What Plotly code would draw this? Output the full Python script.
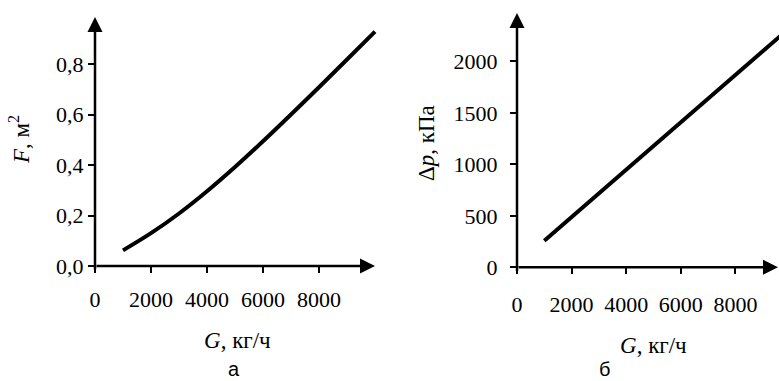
import plotly.graph_objects as go

W, H = 779, 381

# Data
G = [1000, 2000, 3000, 4000, 5000, 6000, 7000, 8000, 9000, 10000]
F = [0.062, 0.130, 0.208, 0.296, 0.392, 0.494, 0.600, 0.708, 0.818, 0.928]
DP = [258, 488, 718, 948, 1178, 1408, 1638, 1868, 2098, 2328]

x_ticks = [0, 2000, 4000, 6000, 8000]
x_ticktext = ["0", "2000", "4000", "6000", "8000"]
f_ticks = [0.0, 0.2, 0.4, 0.6, 0.8]
f_ticktext = ["0,0", "0,2", "0,4", "0,6", "0,8"]
dp_ticks = [0, 500, 1000, 1500, 2000]
dp_ticktext = ["0", "500", "1000", "1500", "2000"]

SERIF = "Liberation Serif"
SANS = "Liberation Sans"
FS = 22
TFS = 23


def px_x(p):
    return p / W


def px_y(p):
    return 1 - p / H


fig = go.Figure()
fig.add_trace(go.Scatter(x=G, y=F, mode="lines", line=dict(color="black", width=4),
                         line_shape="spline", xaxis="x", yaxis="y", showlegend=False))
fig.add_trace(go.Scatter(x=G, y=DP, mode="lines", line=dict(color="black", width=4),
                         xaxis="x2", yaxis="y2", showlegend=False))

axis_common = dict(showgrid=False, zeroline=False, showline=False, ticks="outside",
                   ticklen=6, tickwidth=2, tickcolor="black", automargin=False,
                   tickfont=dict(family=SERIF, size=FS, color="black"))

L_xmax = 285 / 0.028
L_ymax = (266 - 17) / 252.5
R_xmax = 262 / 0.0273
R_ymax = (267.3 - 13) / 0.103

fig.update_layout(
    width=W, height=H, margin=dict(l=0, r=0, t=0, b=0, autoexpand=False),
    paper_bgcolor="white", plot_bgcolor="white",
    xaxis=dict(domain=[px_x(95), px_x(380)], range=[0, L_xmax], tickvals=x_ticks,
               ticktext=x_ticktext, ticklabelstandoff=8, anchor="y", **axis_common),
    yaxis=dict(domain=[px_y(266), px_y(17)], range=[0, L_ymax], tickvals=f_ticks,
               ticktext=f_ticktext, ticklabelstandoff=0, anchor="x", **axis_common),
    xaxis2=dict(domain=[px_x(517), 1.0], range=[0, R_xmax], tickvals=x_ticks,
                ticktext=x_ticktext, ticklabelstandoff=11, anchor="y2", **axis_common),
    yaxis2=dict(domain=[px_y(267.3), px_y(13)], range=[0, R_ymax], tickvals=dp_ticks,
                ticktext=dp_ticktext, ticklabelstandoff=8, anchor="x2", **axis_common),
)

anns = []
# axis arrows
arrow = dict(showarrow=True, arrowhead=2, arrowsize=1.2, arrowwidth=2.5,
             arrowcolor="black", text="")
anns.append(dict(x=(375 - 95) / 0.028, y=0, ax=0, ay=0, xref="x", yref="y",
                 axref="x", ayref="y", **arrow))
anns.append(dict(x=0, y=L_ymax, ax=0, ay=-0.02, xref="x", yref="y",
                 axref="x", ayref="y", **arrow))
anns.append(dict(x=(778 - 517) / 0.0273, y=0, ax=0, ay=0, xref="x2", yref="y2",
                 axref="x2", ayref="y2", **arrow))
anns.append(dict(x=0, y=R_ymax, ax=0, ay=-50, xref="x2", yref="y2",
                 axref="x2", ayref="y2", **arrow))

# titles
title_font = dict(family=SERIF, size=TFS, color="black")
center = dict(xref="paper", yref="paper", xanchor="center", yanchor="middle",
              showarrow=False)
anns.append(dict(x=px_x(20), y=px_y(140), text="<i>F</i>, м<sup>2</sup>",
                 textangle=-90, font=title_font, **center))
anns.append(dict(x=px_x(427), y=px_y(143), text="Δ<i>p</i>, кПа",
                 textangle=-90, font=title_font, **center))
anns.append(dict(x=px_x(237), y=px_y(340), text="<i>G</i>, кг/ч",
                 font=title_font, **center))
anns.append(dict(x=px_x(653), y=px_y(345), text="<i>G</i>, кг/ч",
                 font=title_font, **center))
bottom = dict(xref="paper", yref="paper", xanchor="center", yanchor="bottom",
              showarrow=False, borderpad=0, y=0)
anns.append(dict(x=px_x(234), text="а",
                 font=dict(family=SANS, size=20, color="black"), **bottom))
anns.append(dict(x=px_x(604), text="б",
                 font=dict(family=SANS, size=20, color="black"), **bottom))

fig.update_layout(annotations=anns)
fig.write_html("out.html", post_script="document.body.style.margin='0px';",
               config={"displayModeBar": False})
